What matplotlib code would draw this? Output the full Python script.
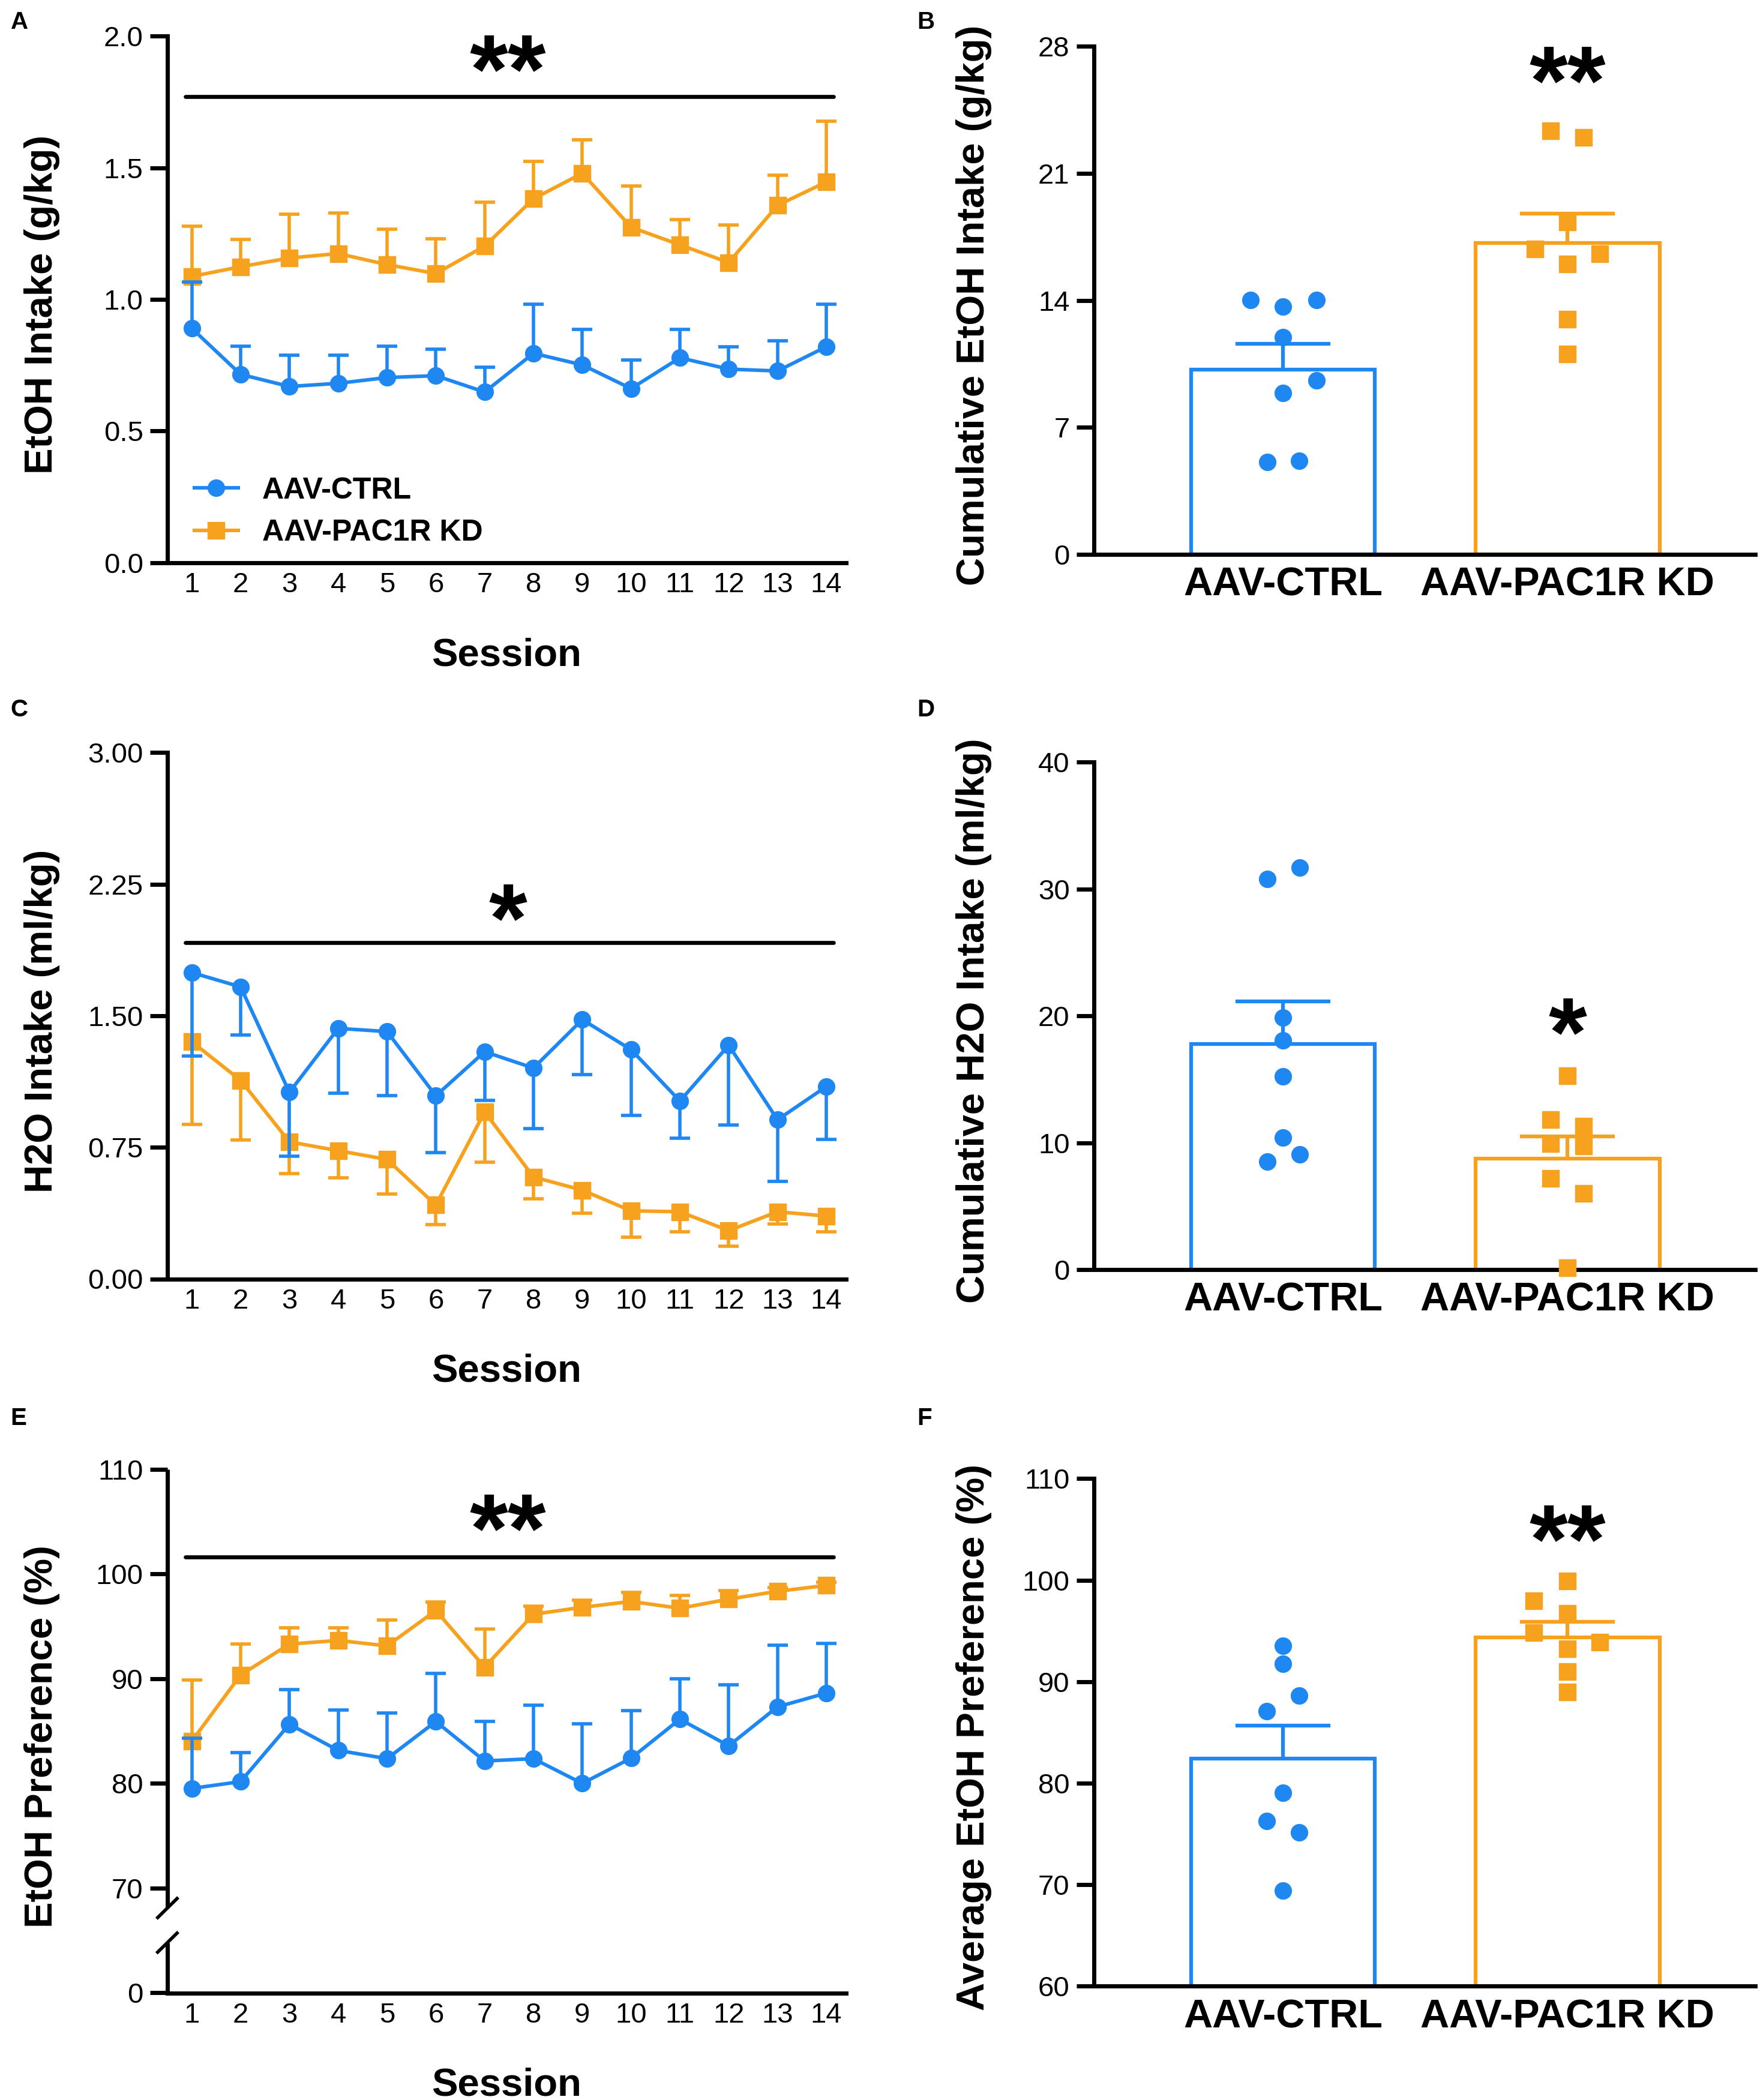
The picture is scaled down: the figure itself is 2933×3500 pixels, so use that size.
import numpy as np
import matplotlib
matplotlib.use('Agg')
import matplotlib.pyplot as plt
from matplotlib.transforms import blended_transform_factory
from matplotlib.lines import Line2D

plt.rcParams['font.family'] = ['Liberation Sans', 'DejaVu Sans']

BLUE = '#1f87f2'
ORANGE = '#f7a21e'

# ---------------- data ----------------
sessions = list(range(1, 15))
groups = ['AAV-CTRL', 'AAV-PAC1R KD']

# Panel A: EtOH intake (g/kg), mean and SEM (upward bars)
a_ctrl_mean = [0.890, 0.715, 0.669, 0.681, 0.703, 0.710, 0.648, 0.795, 0.751, 0.661, 0.778, 0.735, 0.728, 0.820]
a_ctrl_sem = [0.175, 0.108, 0.119, 0.107, 0.120, 0.100, 0.095, 0.187, 0.135, 0.109, 0.108, 0.085, 0.115, 0.162]
a_kd_mean = [1.087, 1.124, 1.157, 1.174, 1.132, 1.098, 1.202, 1.382, 1.479, 1.274, 1.207, 1.140, 1.357, 1.446]
a_kd_sem = [0.192, 0.103, 0.167, 0.153, 0.135, 0.131, 0.167, 0.142, 0.127, 0.157, 0.097, 0.142, 0.114, 0.230]

# Panel C: H2O intake (ml/kg), mean and SEM (downward bars)
c_ctrl_mean = [1.746, 1.665, 1.064, 1.428, 1.410, 1.044, 1.295, 1.202, 1.478, 1.307, 1.014, 1.332, 0.907, 1.097]
c_ctrl_sem = [0.476, 0.275, 0.363, 0.371, 0.366, 0.325, 0.276, 0.345, 0.313, 0.375, 0.213, 0.455, 0.351, 0.301]
c_kd_mean = [1.352, 1.132, 0.781, 0.731, 0.681, 0.421, 0.952, 0.581, 0.506, 0.388, 0.383, 0.275, 0.383, 0.358]
c_kd_sem = [0.470, 0.341, 0.180, 0.155, 0.198, 0.113, 0.288, 0.125, 0.130, 0.150, 0.113, 0.087, 0.070, 0.088]

# Panel E: EtOH preference (%), mean and SEM (upward bars)
e_ctrl_mean = [79.52, 80.17, 85.65, 83.15, 82.36, 85.91, 82.14, 82.36, 80.00, 82.41, 86.13, 83.59, 87.31, 88.62]
e_ctrl_sem = [4.81, 2.76, 3.32, 3.85, 4.38, 4.59, 3.77, 5.08, 5.69, 4.55, 3.87, 5.80, 5.88, 4.75]
e_kd_mean = [84.03, 90.35, 93.30, 93.65, 93.13, 96.50, 91.10, 96.15, 96.81, 97.37, 96.72, 97.59, 98.34, 98.90]
e_kd_sem = [5.87, 2.95, 1.58, 1.23, 2.49, 0.79, 3.65, 0.79, 0.69, 0.88, 1.22, 0.79, 0.35, 0.30]

# Panel B: cumulative EtOH intake (g/kg)
b_means = [10.18, 17.15]
b_sems = [1.43, 1.62]
b_ctrl_pts = [14.03, 14.03, 13.64, 11.96, 9.58, 8.89, 5.10, 5.15]
b_kd_pts = [23.34, 22.97, 18.31, 16.81, 16.57, 16.00, 12.95, 11.03]

# Panel D: cumulative H2O intake (ml/kg)
d_means = [17.79, 8.76]
d_sems = [3.37, 1.75]
d_ctrl_pts = [30.78, 31.67, 19.87, 18.08, 15.21, 10.41, 9.09, 8.53]
d_kd_pts = [15.27, 11.83, 11.31, 9.75, 9.92, 7.21, 6.02, 0.17]

# Panel F: average EtOH preference (%)
f_means = [82.39, 94.33]
f_sems = [3.29, 1.54]
f_ctrl_pts = [93.54, 91.74, 88.60, 87.10, 79.03, 76.30, 75.15, 69.40]
f_kd_pts = [99.90, 97.95, 96.75, 94.86, 93.90, 93.25, 90.97, 88.99]

# horizontal scatter offsets of the individual points (layout only)
b_ctrl_dx = [-0.115, 0.118, 0.0, 0.0, 0.118, 0.0, -0.055, 0.057]
b_kd_dx = [-0.059, 0.057, 0.0, -0.114, 0.114, 0.0, 0.0, 0.0]
d_ctrl_dx = [-0.055, 0.059, 0.0, 0.0, 0.0, 0.0, 0.059, -0.055]
d_kd_dx = [0.0, -0.059, 0.057, 0.057, -0.059, -0.059, 0.057, 0.0]
f_ctrl_dx = [0.0, 0.0, 0.057, -0.057, 0.0, -0.057, 0.057, 0.0]
f_kd_dx = [0.0, -0.118, 0.0, -0.118, 0.114, 0.0, 0.0, 0.0]

# ---------------- style ----------------
LW_SPINE = 5.0
TICK_FS = 34
LABEL_FS = 47
LINE_LW = 4.3
ERR_LW = 4.0
STAR_FS = 118

fig = plt.figure(figsize=(29.33, 35), dpi=100)


def style_axes(ax, xpad):
    for s in ['top', 'right']:
        ax.spines[s].set_visible(False)
    for s in ['left', 'bottom']:
        ax.spines[s].set_linewidth(LW_SPINE)
    ax.tick_params(axis='y', length=21, width=LW_SPINE, labelsize=TICK_FS, pad=8)
    ax.tick_params(axis='x', length=0, labelsize=TICK_FS, pad=xpad)


def errbars(ax, x, m, e, color, direction, capsize, lw, z):
    m = np.asarray(m, float)
    e = np.asarray(e, float)
    z0 = np.zeros_like(e)
    yerr = [z0, e] if direction == 'up' else [e, z0]
    eb = ax.errorbar(x, m, yerr=yerr, fmt='none', ecolor=color, elinewidth=lw,
                     capsize=capsize, capthick=lw, zorder=z)
    for cl in eb[1]:
        if np.allclose(cl.get_ydata(), m):
            cl.remove()


def line_panel(rect, ctrl_m, ctrl_e, kd_m, kd_e, direction, ylim, yticks, yticklabels,
               ylabel, sig_y, star, star_y, legend=False, broken=False):
    ax = fig.add_axes(rect)
    style_axes(ax, 11)
    series = [(kd_m, kd_e, ORANGE, 's', 20), (ctrl_m, ctrl_e, BLUE, 'o', 20)]
    for i, (m, e, c, mk, ms) in enumerate(series):
        errbars(ax, sessions, m, e, c, direction, 12, ERR_LW, 2 + 2 * i)
        ax.plot(sessions, m, color=c, lw=LINE_LW, marker=mk, ms=ms, mec=c, mfc=c,
                zorder=3 + 2 * i)
    ax.set_xlim(0.5, 14.4)
    ax.set_ylim(*ylim)
    ax.set_xticks(sessions)
    ax.set_xticklabels([str(s) for s in sessions])
    ax.set_yticks(yticks)
    ax.set_yticklabels(yticklabels)
    ax.set_ylabel(ylabel, fontsize=LABEL_FS, fontweight='bold', va='center')
    ax.yaxis.set_label_coords(-0.185, 0.49)
    ax.set_xlabel('Session', fontsize=LABEL_FS, fontweight='bold', va='center')
    ax.xaxis.set_label_coords(0.5, -0.176)
    ax.plot([0.87, 14.15], [sig_y, sig_y], color='black', lw=4.8,
            solid_capstyle='round', clip_on=False, zorder=6)
    ax.text(7.47, star_y, star, ha='center', va='center', fontsize=STAR_FS,
            fontweight='bold', zorder=7)
    if legend:
        handles = [Line2D([], [], color=BLUE, lw=LINE_LW, marker='o', ms=20),
                   Line2D([], [], color=ORANGE, lw=LINE_LW, marker='s', ms=20)]
        ax.legend(handles, groups, loc='lower left', bbox_to_anchor=(0.04, 0.03),
                  frameon=False, prop={'size': 36, 'weight': 'bold'},
                  handlelength=1.45, handletextpad=0.8, labelspacing=0.49,
                  borderpad=0, borderaxespad=0)
    if broken:
        ax.spines['left'].set_visible(False)
        tr = blended_transform_factory(ax.transAxes, ax.transData)
        lo, hi = 64.8, 68.1
        ax.plot([0, 0], [ylim[0], lo], color='black', lw=LW_SPINE, transform=tr,
                clip_on=False, solid_capstyle='butt')
        ax.plot([0, 0], [hi, ylim[1]], color='black', lw=LW_SPINE, transform=tr,
                clip_on=False, solid_capstyle='butt')
        for c in (lo, hi):
            ax.plot([-0.016, 0.016], [c - 1.02, c + 1.02], color='black', lw=LW_SPINE * 0.8,
                    transform=tr, clip_on=False, solid_capstyle='butt')
    return ax


def bar_panel(rect, ylim, yticks, ylabel, means, sems, ctrl_pts, ctrl_dx, kd_pts, kd_dx,
              star, star_y):
    ax = fig.add_axes(rect)
    style_axes(ax, 15)
    x = np.arange(len(groups))
    ax.bar(x, means, width=0.647, color='white', edgecolor=[BLUE, ORANGE],
           linewidth=4.5, zorder=1)
    for i, c in enumerate([BLUE, ORANGE]):
        errbars(ax, [x[i]], [means[i]], [sems[i]], c, 'up', 57, 4.5, 3)
    ax.plot(x[0] + np.asarray(ctrl_dx), ctrl_pts, linestyle='none', marker='o', ms=20,
            color=BLUE, zorder=4, clip_on=False)
    ax.plot(x[1] + np.asarray(kd_dx), kd_pts, linestyle='none', marker='s', ms=20,
            color=ORANGE, zorder=4, clip_on=False)
    ax.set_xlim(-0.665, 1.66)
    ax.set_ylim(*ylim)
    ax.set_xticks(x)
    ax.set_xticklabels(groups, fontsize=48, fontweight='bold')
    ax.set_yticks(yticks)
    ax.set_ylabel(ylabel, fontsize=LABEL_FS, fontweight='bold', va='center')
    ax.yaxis.set_label_coords(-0.1815, 0.49)
    ax.text(x[1], star_y, star, ha='center', va='center', fontsize=STAR_FS,
            fontweight='bold', zorder=7)
    return ax


# ---- panels ----
line_panel([0.0951, 0.7321, 0.3855, 0.2507], a_ctrl_mean, a_ctrl_sem, a_kd_mean, a_kd_sem,
           'up', (0, 2.0), [0, 0.5, 1.0, 1.5, 2.0], ['0.0', '0.5', '1.0', '1.5', '2.0'],
           'EtOH Intake (g/kg)', 1.771, '**', 1.845, legend=True)

line_panel([0.0951, 0.3910, 0.3855, 0.2506], c_ctrl_mean, c_ctrl_sem, c_kd_mean, c_kd_sem,
           'down', (0, 3.0), [0, 0.75, 1.5, 2.25, 3.0], ['0.00', '0.75', '1.50', '2.25', '3.00'],
           'H2O Intake (ml/kg)', 1.916, '*', 2.01)

line_panel([0.0951, 0.0510, 0.3855, 0.2494], e_ctrl_mean, e_ctrl_sem, e_kd_mean, e_kd_sem,
           'up', (60, 110), [60, 70, 80, 90, 100, 110], ['0', '70', '80', '90', '100', '110'],
           'EtOH Preference (%)', 101.6, '**', 103.56, broken=True)

BAR_L, BAR_W = 0.6215, 0.3758
bar_panel([BAR_L, 0.736, BAR_W, 0.242], (0, 28), [0, 7, 14, 21, 28],
          'Cumulative EtOH Intake (g/kg)', b_means, b_sems, b_ctrl_pts, b_ctrl_dx,
          b_kd_pts, b_kd_dx, '**', 25.65)

bar_panel([BAR_L, 0.3954, BAR_W, 0.2417], (0, 40), [0, 10, 20, 30, 40],
          'Cumulative H2O Intake (ml/kg)', d_means, d_sems, d_ctrl_pts, d_ctrl_dx,
          d_kd_pts, d_kd_dx, '*', 18.1)

bar_panel([BAR_L, 0.0542, BAR_W, 0.2417], (60, 110), [60, 70, 80, 90, 100, 110],
          'Average EtOH Preference (%)', f_means, f_sems, f_ctrl_pts, f_ctrl_dx,
          f_kd_pts, f_kd_dx, '**', 103.25)

for lab, x, y in [('A', 0.006, 0.9893), ('B', 0.521, 0.9893), ('C', 0.006, 0.662),
                  ('D', 0.521, 0.662), ('E', 0.006, 0.3246), ('F', 0.521, 0.3246)]:
    fig.text(x, y, lab, fontsize=29, fontweight='bold', ha='left', va='center')

fig.savefig('out.png', dpi=100)
